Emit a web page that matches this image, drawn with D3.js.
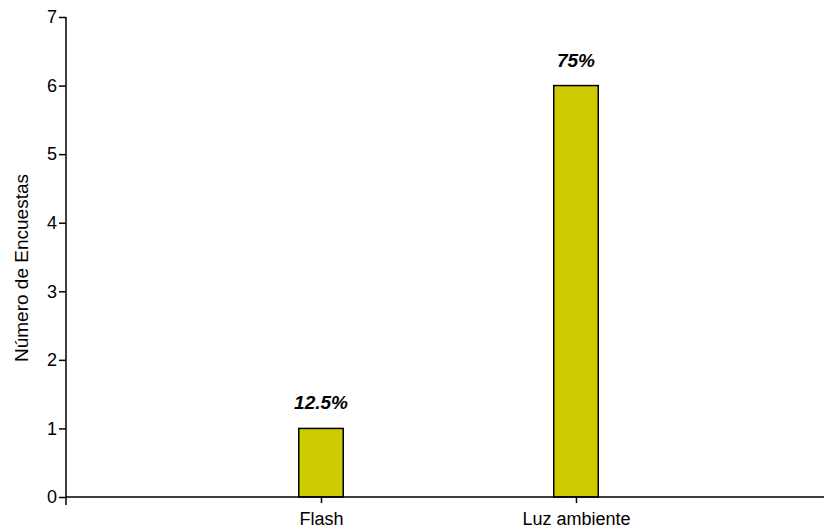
<!DOCTYPE html>
<html><head><meta charset="utf-8">
<script src="https://cdn.jsdelivr.net/npm/d3@7"></script>
<style>body{margin:0;background:#fff}svg{display:block}text{font-family:"Liberation Sans",Arial,sans-serif}</style>
</head><body><svg id="c" width="824" height="531"></svg>
<script>
const categories = ["Flash", "Luz ambiente"];
const values = [1, 6];
const percentLabels = ["12.5%", "75%"];
const yTicks = [0, 1, 2, 3, 4, 5, 6, 7];
const yTitle = "Número de Encuestas";

const svg = d3.select("#c");
const x = d3.scalePoint().domain(["_start", ...categories, "_end"]).range([66, 831]);
const y = d3.scaleLinear().domain([0, 7]).range([497, 17]);
const barW = 44.5;

// bars
svg.selectAll("rect.bar").data(values).join("rect")
  .attr("x", (d, i) => x(categories[i]) - barW / 2)
  .attr("y", d => y(d))
  .attr("width", barW)
  .attr("height", d => y(0) - y(d))
  .attr("fill", "#cccc00")
  .attr("stroke", "#000")
  .attr("stroke-width", 1.5);

// y axis
const yAxis = svg.append("g").attr("transform", "translate(66,0)")
  .call(d3.axisLeft(y).tickValues(yTicks).tickFormat(d3.format("d")).tickSize(7).tickPadding(2).tickSizeOuter(0));
yAxis.select(".domain").remove();
yAxis.selectAll("line").attr("stroke", "#000").attr("stroke-width", 1.5);
yAxis.selectAll("text").attr("font-size", 18).attr("fill", "#000").attr("font-family", "Liberation Sans, Arial, sans-serif");
svg.append("line").attr("x1", 66).attr("x2", 66).attr("y1", y(7)).attr("y2", y(0) + 8)
  .attr("stroke", "#000").attr("stroke-width", 1.5);

// x axis
const xAxis = svg.append("g").attr("transform", `translate(0,${y(0)})`)
  .call(d3.axisBottom(x).tickValues(categories).tickSize(6).tickPadding(9).tickSizeOuter(0));
xAxis.select(".domain").remove();
xAxis.selectAll("line").attr("stroke", "#000").attr("stroke-width", 1.5);
xAxis.selectAll("text").attr("font-size", 18).attr("fill", "#000").attr("font-family", "Liberation Sans, Arial, sans-serif");
svg.append("line").attr("x1", 66).attr("x2", 824).attr("y1", y(0)).attr("y2", y(0))
  .attr("stroke", "#000").attr("stroke-width", 1.5);

// value labels
svg.selectAll("text.pct").data(values).join("text")
  .attr("class", "pct")
  .attr("x", (d, i) => x(categories[i]))
  .attr("y", d => y(d) - 19)
  .attr("text-anchor", "middle")
  .attr("font-size", 19).attr("font-weight", "bold").attr("font-style", "italic")
  .text((d, i) => percentLabels[i]);

// y title
svg.append("text")
  .attr("transform", "translate(28,268) rotate(-90)")
  .attr("text-anchor", "middle")
  .attr("font-size", 19)
  .text(yTitle);
</script></body></html>
